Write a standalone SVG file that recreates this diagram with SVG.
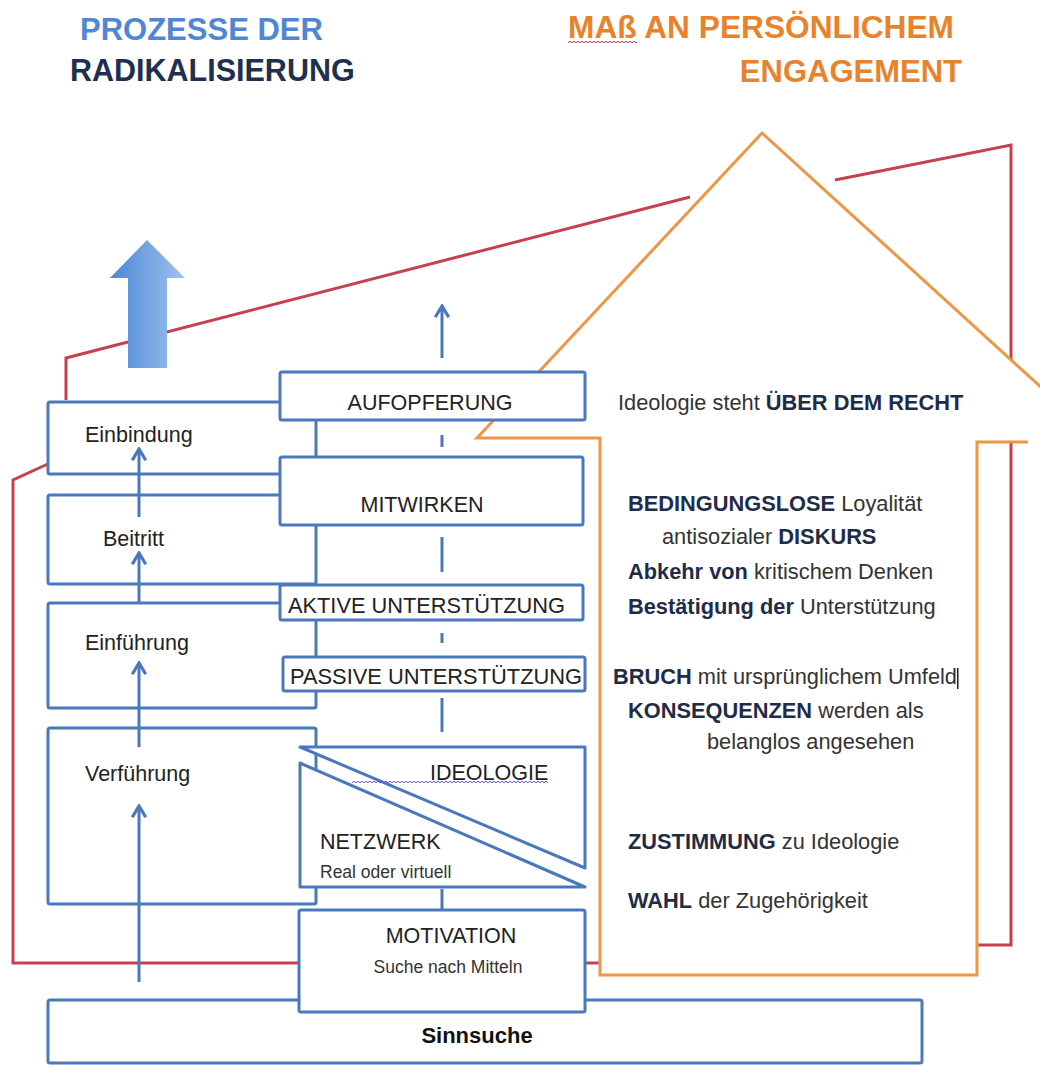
<svg xmlns="http://www.w3.org/2000/svg" width="1040" height="1066" viewBox="0 0 1040 1066">
<style>
text{font-family:"Liberation Sans",Arial,sans-serif;}
.box{fill:#fff;stroke:#4a78bd;stroke-width:3;stroke-linejoin:round;}
.lbl{font-size:21.5px;fill:#222;}
.sm{font-size:17.5px;fill:#333;}
.rt{font-size:21.8px;fill:#333;}
.b{font-weight:bold;fill:#1e2c48;}
.red{fill:none;stroke:#c6404e;stroke-width:3;stroke-linejoin:miter;}
.con{fill:none;stroke:#4a78bd;stroke-width:3;}
.arr{marker-end:url(#ah);}
</style>
<defs>
<marker id="ah" markerWidth="16" markerHeight="16" viewBox="0 0 10 10" refX="8.5" refY="5" orient="auto" markerUnits="userSpaceOnUse">
<path d="M1.5,0.8 L8.5,5 L1.5,9.2" fill="none" stroke="#4a78bd" stroke-width="2"/>
</marker>
<linearGradient id="bigArrow" x1="0" y1="0" x2="1" y2="0">
<stop offset="0" stop-color="#4c86d6"/>
<stop offset="1" stop-color="#9ec3ee"/>
</linearGradient>
<pattern id="wavyRed" x="0" y="0" width="4" height="4" patternUnits="userSpaceOnUse">
<path d="M0,3 L2,1 L4,3" fill="none" stroke="#d0404a" stroke-width="1"/>
</pattern>
<pattern id="wavyPurple" x="0" y="0" width="4" height="4" patternUnits="userSpaceOnUse">
<path d="M0,3 L2,1 L4,3" fill="none" stroke="#6a5ad8" stroke-width="1"/>
</pattern>
</defs>
<rect width="1040" height="1066" fill="#fff"/>

<g id="titles">
<text x="80" y="40" font-size="31" font-weight="bold" fill="#4f86d6">PROZESSE DER</text>
<text x="70" y="81" font-size="30.5" font-weight="bold" fill="#1f2f4f">RADIKALISIERUNG</text>
<text x="568" y="38" font-size="31" font-weight="bold" fill="#e8832c" textLength="386" lengthAdjust="spacingAndGlyphs">MAß AN PERSÖNLICHEM</text>
<rect x="568" y="41" width="69" height="4" fill="url(#wavyRed)"/>
<text x="962" y="82" font-size="31" font-weight="bold" fill="#e8832c" text-anchor="end">ENGAGEMENT</text>
</g>

<g id="roof-frame">
<polyline class="red" points="600,963 13,963 13,480 50,463"/>
<polyline class="red" points="66,400 66,358 690,197"/>
<polyline class="red" points="835,180 1011,145 1011,945 977,945"/>
</g>

<g id="house">
<polygon points="762,133 1075,418 1075,442 977,442 977,975 600,975 600,438 477,438" fill="#fff"/>
<polyline points="1066,410 762,133 477,438 600,438 600,975 977,975 977,442 1028,442" fill="none" stroke="#ed9645" stroke-width="3" stroke-linejoin="miter"/>
</g>

<g id="big-arrow">
<polygon points="147,240 185,278 167,278 167,368 128,368 128,278 110,278" fill="url(#bigArrow)"/>
</g>

<g id="node-einbindung">
<rect class="box" x="48" y="402" width="268" height="72" rx="2"/>
<text class="lbl" x="85" y="442">Einbindung</text>
</g>
<g id="node-beitritt">
<rect class="box" x="48" y="495" width="268" height="89" rx="2"/>
<text class="lbl" x="103" y="546">Beitritt</text>
</g>
<g id="node-einfuehrung">
<rect class="box" x="48" y="603" width="268" height="105" rx="2"/>
<text class="lbl" x="85" y="650">Einführung</text>
</g>
<g id="node-verfuehrung">
<rect class="box" x="48" y="728" width="268" height="176" rx="2"/>
<text class="lbl" x="85" y="781">Verführung</text>
</g>

<g id="connectors">
<line class="con arr" x1="139" y1="982" x2="139" y2="806"/>
<line class="con arr" x1="139" y1="747" x2="139" y2="663"/>
<line class="con arr" x1="139" y1="603" x2="139" y2="553"/>
<line class="con arr" x1="139" y1="517" x2="139" y2="449"/>
<line class="con arr" x1="442" y1="358" x2="442" y2="306"/>
<line class="con" x1="442" y1="435" x2="442" y2="447"/>
<line class="con" x1="442" y1="537" x2="442" y2="572"/>
<line class="con" x1="442" y1="633" x2="442" y2="643"/>
<line class="con" x1="442" y1="698" x2="442" y2="732"/>
<line class="con" x1="442" y1="889" x2="442" y2="910"/>
</g>

<g id="node-aufopferung">
<rect class="box" x="280" y="372" width="305" height="48" rx="2"/>
<text class="lbl" x="430" y="410" text-anchor="middle">AUFOPFERUNG</text>
</g>
<g id="node-mitwirken">
<rect class="box" x="280" y="457" width="303" height="68" rx="2"/>
<text class="lbl" x="422" y="512" text-anchor="middle">MITWIRKEN</text>
</g>
<g id="node-aktive">
<rect class="box" x="280" y="585" width="303" height="35" rx="2"/>
<text class="lbl" x="288" y="613" textLength="277" lengthAdjust="spacingAndGlyphs">AKTIVE UNTERSTÜTZUNG</text>
</g>
<g id="node-passive">
<rect class="box" x="283" y="657" width="302" height="34" rx="2"/>
<text class="lbl" x="290" y="684" textLength="292" lengthAdjust="spacingAndGlyphs">PASSIVE UNTERSTÜTZUNG</text>
</g>

<g id="node-ideologie">
<polygon class="box" points="300,747 585,747 585,868"/>
<rect x="352" y="780" width="196" height="4" fill="url(#wavyPurple)"/>
<text class="lbl" x="430" y="780">IDEOLOGIE</text>
</g>
<g id="node-netzwerk">
<polygon class="box" points="300,763 300,887 585,887"/>
<text class="lbl" x="320" y="849">NETZWERK</text>
<text class="sm" x="320" y="878">Real oder virtuell</text>
</g>

<g id="node-sinnsuche">
<rect class="box" x="48" y="1000" width="874" height="63" rx="2"/>
<text x="477" y="1043" font-size="22" font-weight="bold" fill="#111" text-anchor="middle">Sinnsuche</text>
</g>
<g id="node-motivation">
<rect class="box" x="299" y="910" width="286" height="102" rx="2"/>
<text class="lbl" x="451" y="943" text-anchor="middle">MOTIVATION</text>
<text class="sm" x="448" y="973" text-anchor="middle">Suche nach Mitteln</text>
</g>

<g id="engagement-texts">
<text class="rt" x="618" y="410">Ideologie steht <tspan class="b">ÜBER DEM RECHT</tspan></text>
<text class="rt" x="628" y="511"><tspan class="b">BEDINGUNGSLOSE</tspan> Loyalität</text>
<text class="rt" x="662" y="544">antisozialer <tspan class="b">DISKURS</tspan></text>
<text class="rt" x="628" y="579"><tspan class="b">Abkehr von</tspan> kritischem Denken</text>
<text class="rt" x="628" y="614"><tspan class="b">Bestätigung der</tspan> Unterstützung</text>
<text class="rt" x="613" y="684"><tspan class="b">BRUCH</tspan> mit ursprünglichem Umfeld</text>
<rect x="957" y="668" width="1.5" height="21" fill="#222"/>
<text class="rt" x="628" y="718"><tspan class="b">KONSEQUENZEN</tspan> werden als</text>
<text class="rt" x="707" y="749">belanglos angesehen</text>
<text class="rt" x="628" y="849"><tspan class="b">ZUSTIMMUNG</tspan> zu Ideologie</text>
<text class="rt" x="628" y="908"><tspan class="b">WAHL</tspan> der Zugehörigkeit</text>
</g>
</svg>
